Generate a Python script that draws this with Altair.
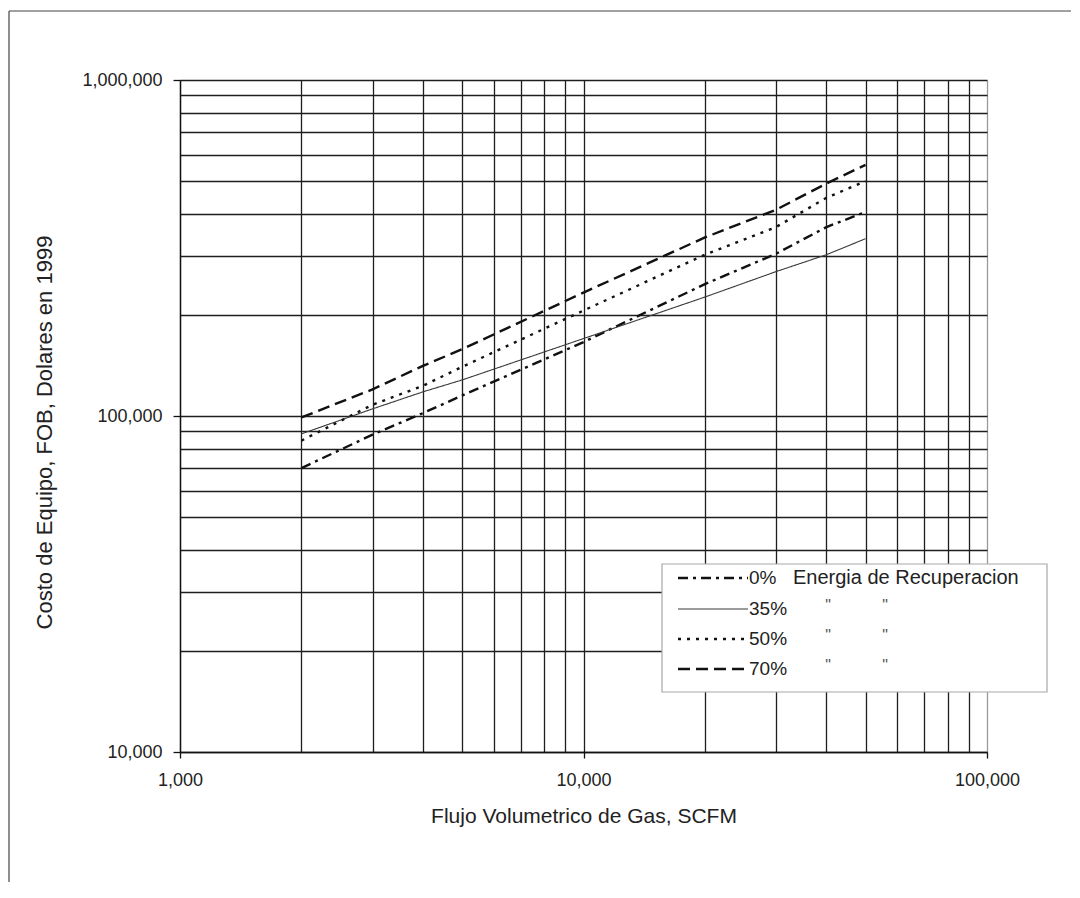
import altair as alt
import pandas as pd

# ---- data ----
flow = [2000, 3000, 4000, 5000, 10000, 20000, 30000, 40000, 50000]
cost_0 = [70000, 88000, 102000, 115000, 166000, 247000, 304000, 365000, 405000]
cost_35 = [88500, 105000, 118000, 128000, 170000, 226000, 269000, 302000, 337000]
cost_50 = [84500, 108000, 123000, 140000, 206000, 302000, 365000, 446000, 500000]
cost_70 = [99000, 120000, 141000, 158000, 233000, 340000, 411000, 492000, 559000]
series_names = ["0%", "35%", "50%", "70%"]

x_grid = [1000, 2000, 3000, 4000, 5000, 6000, 7000, 8000, 9000,
          10000, 20000, 30000, 40000, 50000, 60000, 70000, 80000, 90000, 100000]
y_grid = [10000, 20000, 30000, 40000, 50000, 60000, 70000, 80000, 90000,
          100000, 200000, 300000, 400000, 500000, 600000, 700000, 800000, 900000, 1000000]
x_major = [1000, 10000, 100000]
y_major = [10000, 100000, 1000000]

legend_text = ["0%", "35%", "50%", "70%"]
legend_extra = "Energia de Recuperacion"
ditto = '"'

x_title = "Flujo Volumetrico de Gas, SCFM"
y_title = "Costo de Equipo, FOB, Dolares en 1999"

# ---- line styles ----
dashes = [[10, 5, 3, 5], [1, 0], [3, 6], [12, 6]]
widths = [2.4, 1.1, 2.4, 2.4]
colors = ["#111111", "#3a3a3a", "#111111", "#111111"]

# ---- build table ----
rows = []
for i, (name, vals) in enumerate(zip(series_names, [cost_0, cost_35, cost_50, cost_70])):
    for f, c in zip(flow, vals):
        rows.append({"flow": f, "cost": c, "series": name, "sw": widths[i]})
df = pd.DataFrame(rows)

FONT = "Liberation Sans"
TXT = "#222222"
W, H = 807, 672

dash_scale = alt.Scale(domain=series_names, range=dashes)
color_scale = alt.Scale(domain=series_names, range=colors)


def major_test(vals):
    return " || ".join(f"datum.value == {v}" for v in vals)


xt = major_test(x_major)
yt = major_test(y_major)

x_axis = alt.Axis(
    values=x_grid, grid=True, title=x_title,
    labelExpr=f"({xt}) ? format(datum.value, ',') : ''",
    labelOverlap=False, labelFlush=False, labelBaseline="middle",
    labelPadding=22, tickSize=6, tickColor="#111", tickWidth=1.3,
    tickOpacity={"condition": {"test": xt, "value": 1}, "value": 0},
    gridColor={"condition": {"test": "datum.value == 100000", "value": "#9a9a9a"}, "value": "#1e1e1e"},
    gridWidth=1.3, domainColor="#111", domainWidth=1.3,
    titleY=64, titleBaseline="middle", titleFontSize=21,
)
y_axis = alt.Axis(
    values=y_grid, grid=True, title=y_title,
    labelExpr=f"({yt}) ? format(datum.value, ',') : ''",
    labelOverlap=False, labelFlush=False, labelBaseline="middle",
    labelPadding=11, tickSize=7, tickColor="#111", tickWidth=1.3,
    tickOpacity={"condition": {"test": yt, "value": 1}, "value": 0},
    gridColor="#1e1e1e", gridWidth=1.3, domainColor="#111", domainWidth=1.3,
    titleX=-136, titleY=352, titleAngle=270, titleAlign="center", titleBaseline="middle",
    titleFontSize=22,
)

lines = alt.Chart(df).mark_line().encode(
    x=alt.X("flow:Q", scale=alt.Scale(type="log", domain=[1000, 100000], nice=False), axis=x_axis),
    y=alt.Y("cost:Q", scale=alt.Scale(type="log", domain=[10000, 1000000], nice=False), axis=y_axis),
    strokeDash=alt.StrokeDash("series:N", scale=dash_scale, legend=None),
    strokeWidth=alt.StrokeWidth("sw:Q", scale=None, legend=None),
    color=alt.Color("series:N", scale=color_scale, legend=None),
    detail="series:N",
)

one = pd.DataFrame({"k": [0]})
layers = [lines]

# outer frame (top and left edges)
layers.append(alt.Chart(one).mark_rule(color="#444", strokeWidth=1.2).encode(
    x=alt.value(-171), y=alt.value(-69), y2=alt.value(802)))
layers.append(alt.Chart(one).mark_rule(color="#444", strokeWidth=1.2).encode(
    x=alt.value(-171), x2=alt.value(891), y=alt.value(-69)))

# legend box
layers.append(alt.Chart(one).mark_rect(fill="white", stroke="#a8a8a8", strokeWidth=1.2).encode(
    x=alt.value(482), x2=alt.value(867), y=alt.value(484), y2=alt.value(612)))

row_y = [498, 529, 559, 589]
for i, name in enumerate(series_names):
    layers.append(alt.Chart(one).mark_rule(
        strokeDash=dashes[i], strokeWidth=widths[i], color=colors[i]).encode(
        x=alt.value(498), x2=alt.value(568), y=alt.value(row_y[i])))
    layers.append(alt.Chart(one).mark_text(
        align="left", baseline="middle", font=FONT, fontSize=19, color=TXT).encode(
        x=alt.value(569), y=alt.value(row_y[i]), text=alt.value(legend_text[i])))
    if i == 0:
        layers.append(alt.Chart(one).mark_text(
            align="left", baseline="middle", font=FONT, fontSize=20, color=TXT).encode(
            x=alt.value(613), y=alt.value(row_y[i]), text=alt.value(legend_extra)))
    else:
        for qx in (648, 705):
            layers.append(alt.Chart(one).mark_text(
                align="center", baseline="middle", font=FONT, fontSize=16, color="#555555").encode(
                x=alt.value(qx), y=alt.value(row_y[i] - 3), text=alt.value(ditto)))

chart = alt.layer(*layers).properties(
    width=W, height=H,
    autosize=alt.AutoSizeParams(type="none"),
    padding={"left": 172, "top": 72, "right": 85, "bottom": 130},
    background="white",
).configure_view(stroke=None).configure_axis(
    labelFont=FONT, titleFont=FONT, labelFontSize=18,
    labelColor=TXT, titleColor=TXT, labelFontWeight="normal", titleFontWeight="normal",
)

chart.save("out.html", embed_options={"renderer": "svg", "actions": False})
